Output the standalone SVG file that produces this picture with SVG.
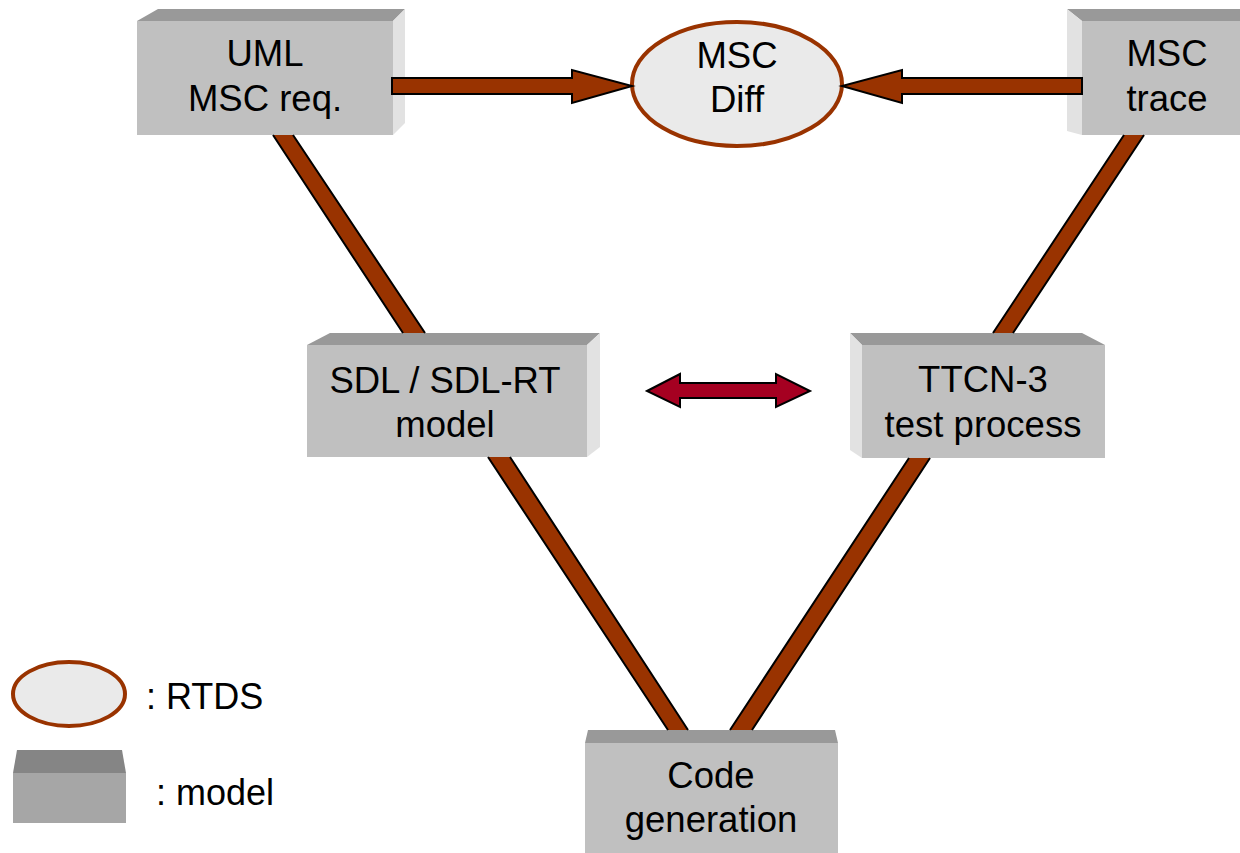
<svg xmlns="http://www.w3.org/2000/svg" width="1240" height="853" viewBox="0 0 1240 853">
  <style>
    .front { fill: #c0c0c0; }
    .top { fill: #999999; }
    .side { fill: #e2e2e2; }
    .rtds { fill: #eaeaea; stroke: #993300; stroke-width: 4; }
    .label { font-family: "Liberation Sans", Arial, sans-serif; font-size: 36.5px; fill: #000; text-anchor: middle; }
    .legend { font-family: "Liberation Sans", Arial, sans-serif; font-size: 36px; fill: #000; }
    .band { fill: #993300; }
    .edge { stroke: #000; stroke-width: 2; fill: none; }
    .flow { fill: #993300; stroke: #000; stroke-width: 2; stroke-linejoin: miter; }
    .sync { fill: #a50021; stroke: #000; stroke-width: 2; stroke-linejoin: miter; }
  </style>

  <g id="node-uml">
    <polygon class="top" points="137,21 158,9 405,9 393,21"/>
    <polygon class="side" points="393,21 405,9 405,123 393,135"/>
    <rect class="front" x="137" y="21" width="256" height="114"/>
    <text class="label" x="265" y="66">UML</text>
    <text class="label" x="265" y="111">MSC req.</text>
  </g>

  <g id="node-diff">
    <ellipse class="rtds" cx="737" cy="84" rx="105" ry="62"/>
    <text class="label" x="737" y="68">MSC</text>
    <text class="label" x="737" y="112">Diff</text>
  </g>

  <g id="node-trace">
    <polygon class="top" points="1067,9 1240,9 1240,21 1082,21"/>
    <polygon class="side" points="1067,9 1082,21 1082,135 1067,131"/>
    <rect class="front" x="1082" y="21" width="158" height="114"/>
    <text class="label" x="1167" y="66">MSC</text>
    <text class="label" x="1167" y="111">trace</text>
  </g>

  <g id="node-sdl">
    <polygon class="top" points="307,345 330,333 600,333 587,345"/>
    <polygon class="side" points="587,345 600,333 600,447 587,457"/>
    <rect class="front" x="307" y="345" width="280" height="112"/>
    <text class="label" x="445" y="393">SDL / SDL-RT</text>
    <text class="label" x="445" y="437">model</text>
  </g>

  <g id="node-ttcn">
    <polygon class="top" points="850,333 1082,333 1105,345 862,345"/>
    <polygon class="side" points="850,333 862,345 862,458 850,450"/>
    <rect class="front" x="862" y="345" width="243" height="113"/>
    <text class="label" x="983" y="392">TTCN-3</text>
    <text class="label" x="983" y="437">test process</text>
  </g>

  <g id="node-codegen">
    <polygon class="top" points="588,730 835,730 838,743 585,743"/>
    <rect class="front" x="585" y="743" width="253" height="110"/>
    <text class="label" x="711" y="788">Code</text>
    <text class="label" x="711" y="832">generation</text>
  </g>

  <g id="connectors">
    <!-- diagonal links of the V: filled band plus outlined long sides -->
    <polygon class="band" points="273,135 293,135 425,333 403,333"/>
    <path class="edge" d="M273,135 L403,333 M293,135 L425,333"/>
    <polygon class="band" points="1124,135 1144,135 1013,333 993,333"/>
    <path class="edge" d="M1124,135 L993,333 M1144,135 L1013,333"/>
    <polygon class="band" points="488,457 510,457 688,730 668,730"/>
    <path class="edge" d="M488,457 L668,730 M510,457 L688,730"/>
    <polygon class="band" points="909,458 930,458 752,730 730,730"/>
    <path class="edge" d="M909,458 L730,730 M930,458 L752,730"/>
    <!-- block arrows into the diff -->
    <polygon class="flow" points="392,78 572,78 572,70 632,86 572,103 572,94 392,94"/>
    <polygon class="flow" points="1082,78 902,78 902,70 842,86 902,103 902,94 1082,94"/>
    <!-- two-way link between model and test process -->
    <polygon class="sync" points="647,391 680,374 680,383 776,383 776,374 810,391 776,407 776,398 680,398 680,407"/>
  </g>

  <g id="legend">
    <ellipse class="rtds" cx="69" cy="694" rx="56" ry="32"/>
    <text class="legend" x="146" y="709">: RTDS</text>
    <polygon fill="#858585" points="17,750 122,750 126,773 13,773"/>
    <rect fill="#a6a6a6" x="13" y="773" width="113" height="50"/>
    <text class="legend" x="156" y="805">: model</text>
  </g>
</svg>
